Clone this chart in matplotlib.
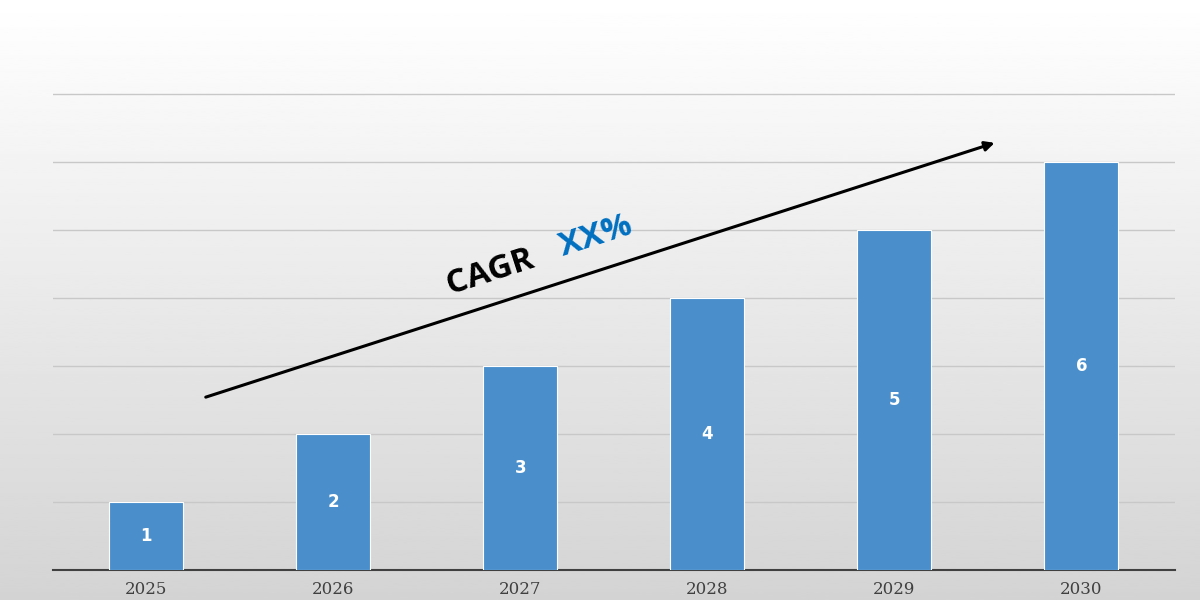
import matplotlib
matplotlib.use("Agg")
import matplotlib.pyplot as plt
import numpy as np

years = ["2025", "2026", "2027", "2028", "2029", "2030"]
values = [1, 2, 3, 4, 5, 6]
bar_labels = ["1", "2", "3", "4", "5", "6"]

fig = plt.figure(figsize=(12, 6), dpi=100)
bg = fig.add_axes([0, 0, 1, 1], zorder=-10)
grad = np.linspace(1.0, 0.83, 256).reshape(-1, 1)
bg.imshow(grad, cmap="gray", vmin=0, vmax=1, aspect="auto", extent=[0, 1, 0, 1])
bg.axis("off")

ax = fig.add_axes([52.5/1200, 30/600, (1175-52.5)/1200, 570/600])
ax.patch.set_alpha(0)
x = np.arange(len(years))
ax.bar(x, values, width=74/187, color="#4a8fcc", edgecolor="white", linewidth=0.8, zorder=3)
for xi, v, lab in zip(x, values, bar_labels):
    ax.text(xi, v/2, lab, ha="center", va="center", color="white", fontsize=12, fontweight="bold", zorder=4)
ax.set_xlim(-0.5, 5.5)
ax.set_ylim(0, 570/68)
ax.set_yticks(range(1, 8))
ax.yaxis.grid(True, color="#c8c8c8", linewidth=1, zorder=0)
ax.tick_params(axis="y", length=0, labelleft=False)
ax.tick_params(axis="x", length=0, pad=8)
ax.set_xticks(x)
ax.set_xticklabels(years, fontsize=12, family="DejaVu Serif", color="#404040")
for s in ["top", "right", "left"]:
    ax.spines[s].set_visible(False)
ax.spines["bottom"].set_color("#404040")
ax.spines["bottom"].set_linewidth(1.5)

ax.annotate("", xy=(4.55, (570-142)/68), xytext=(0.305, (570-398)/68),
            arrowprops=dict(arrowstyle="-|>", color="black", lw=2.2, mutation_scale=14), zorder=5)
ang = np.degrees(np.arctan(256/794))
fig.text(490/1200, 1-272/600, "CAGR", rotation=ang, ha="center", va="center",
         fontsize=24, fontweight="bold", family="Open Sans", color="black", rotation_mode="anchor")
fig.text(596/1200, 1-236/600, "XX%", rotation=ang, ha="center", va="center",
         fontsize=24, fontweight="bold", family="Open Sans", color="#0070c0", rotation_mode="anchor")

fig.savefig("out.png", dpi=100)
